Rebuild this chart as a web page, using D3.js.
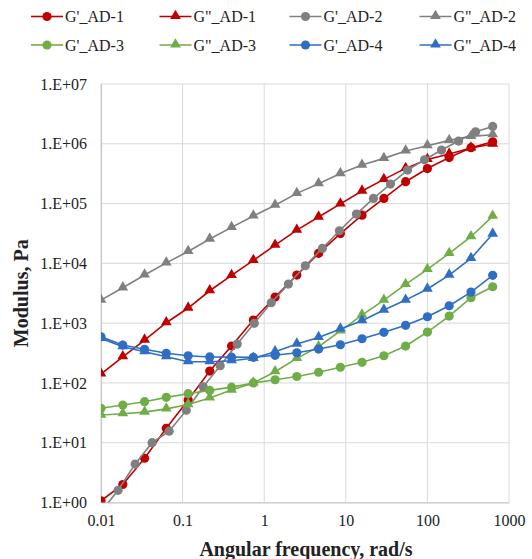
<!DOCTYPE html>
<html>
<head>
<meta charset="utf-8">
<script src="https://cdn.jsdelivr.net/npm/d3@7"></script>
<style>
  body { margin: 0; background: #fff; }
  text { font-family: "Liberation Serif", "Times New Roman", serif; fill: #222; }
</style>
</head>
<body>
<div id="chart"></div>
<script>
// angular frequency, rad/s (most series)
const freq = [0.01, 0.0185, 0.0342, 0.0631, 0.117, 0.215, 0.398, 0.736, 1.36, 2.51,
  4.64, 8.58, 15.8, 29.3, 54.1, 100, 185, 342, 631];
// G'_AD-2 was measured on a finer grid
const freq2 = [0.01, 0.0162, 0.0262, 0.0423, 0.0684, 0.111, 0.179, 0.289, 0.467, 0.756,
  1.22, 1.98, 3.19, 5.16, 8.35, 13.5, 21.8, 35.3, 57.1, 92.3, 149, 241, 390, 631];

const gp1 = [1.07, 2.0, 5.5, 17.4, 52, 158, 415, 1127, 2730, 6370, 14700, 31500,
  64000, 122000, 232000, 385000, 588000, 860000, 1080000];
const gpp1 = [141, 274, 521, 1016, 1790, 3480, 6300, 11200, 20200, 36000, 59500, 99000,
  162000, 254000, 388000, 548000, 673000, 850000, 990000];
const gp2 = [0.7, 1.6, 4.4, 10, 15.6, 35, 86, 194, 447, 993, 2195, 4500, 9120, 17800,
  35100, 66700, 122000, 212000, 363000, 540000, 785000, 1110000, 1590000, 1950000];
const gpp2 = [2430, 3900, 6400, 10200, 15800, 25500, 40000, 62000, 94000, 148000, 215000,
  318000, 440000, 570000, 760000, 930000, 1140000, 1330000, 1420000];
const gp3 = [37.6, 42.7, 48.5, 57.4, 66, 75, 85, 100, 113, 128, 151, 183, 221, 285,
  414, 710, 1315, 2660, 4060];
const gpp3 = [29, 30.5, 32.5, 36.8, 43.5, 56, 76, 100, 154, 258, 403, 740, 1366, 2430,
  4450, 7940, 14700, 27900, 61700];
const gp4 = [590, 430, 365, 313, 285, 272, 270, 268, 290, 320, 369, 435, 548, 702,
  919, 1280, 1955, 3310, 6300];
const gpp4 = [557, 403, 332, 274, 226, 226, 235, 258, 332, 447, 575, 800, 1097, 1656,
  2430, 3720, 6370, 12100, 30900];

const seriesNames = ["G'_AD-1", 'G"_AD-1', "G'_AD-2", 'G"_AD-2',
  "G'_AD-3", 'G"_AD-3', "G'_AD-4", 'G"_AD-4'];
const xTicks = [0.01, 0.1, 1, 10, 100, 1000];
const yTicks = [1, 10, 100, 1e3, 1e4, 1e5, 1e6, 1e7];

const series = [
  { name: seriesNames[0], x: freq, y: gp1, color: '#c00000', shape: 'circle' },
  { name: seriesNames[1], x: freq, y: gpp1, color: '#c00000', shape: 'triangle' },
  { name: seriesNames[2], x: freq2, y: gp2, color: '#808080', shape: 'circle' },
  { name: seriesNames[3], x: freq, y: gpp2, color: '#808080', shape: 'triangle' },
  { name: seriesNames[4], x: freq, y: gp3, color: '#70ad47', shape: 'circle' },
  { name: seriesNames[5], x: freq, y: gpp3, color: '#70ad47', shape: 'triangle' },
  { name: seriesNames[6], x: freq, y: gp4, color: '#2f6ec4', shape: 'circle' },
  { name: seriesNames[7], x: freq, y: gpp4, color: '#2f6ec4', shape: 'triangle' }
];

const width = 532, height = 559;
const plot = { left: 101, right: 509, top: 84, bottom: 502.5 };

const svg = d3.select('#chart').append('svg')
  .attr('width', width)
  .attr('height', height);

const x = d3.scaleLog().domain([0.01, 1000]).range([plot.left, plot.right]);
const y = d3.scaleLog().domain([1, 1e7]).range([plot.bottom, plot.top]);

svg.append('clipPath').attr('id', 'clip')
  .append('rect')
  .attr('x', plot.left).attr('y', plot.top)
  .attr('width', plot.right - plot.left)
  .attr('height', plot.bottom - plot.top);

// gridlines
svg.append('g')
  .selectAll('line.vgrid')
  .data(xTicks)
  .join('line')
  .attr('x1', d => x(d)).attr('x2', d => x(d))
  .attr('y1', plot.top).attr('y2', plot.bottom)
  .attr('stroke', '#d9d9d9').attr('stroke-width', 1);

svg.append('g')
  .selectAll('line.hgrid')
  .data(yTicks)
  .join('line')
  .attr('x1', plot.left).attr('x2', plot.right)
  .attr('y1', d => y(d)).attr('y2', d => y(d))
  .attr('stroke', '#d9d9d9').attr('stroke-width', 1);

// axes
const xAxis = d3.axisBottom(x)
  .tickValues(xTicks)
  .tickFormat(d => String(d))
  .tickSize(0)
  .tickPadding(12);

const yAxis = d3.axisLeft(y)
  .tickValues(yTicks)
  .tickFormat(d => '1.E+' + String(Math.round(Math.log10(d))).padStart(2, '0'))
  .tickSize(0)
  .tickPadding(14);

const gx = svg.append('g')
  .attr('transform', `translate(0,${plot.bottom})`)
  .call(xAxis);
const gy = svg.append('g')
  .attr('transform', `translate(${plot.left},0)`)
  .call(yAxis);

[gx, gy].forEach(g => {
  g.select('.domain').attr('stroke', '#c8c8c8').attr('stroke-width', 1.2);
  g.selectAll('text')
    .style('font-family', '"Liberation Serif", serif')
    .style('font-size', '16px')
    .attr('fill', '#222');
});

// axis titles
svg.append('text')
  .attr('x', (plot.left + plot.right) / 2 + 1)
  .attr('y', 556)
  .attr('text-anchor', 'middle')
  .style('font-size', '20px')
  .style('font-weight', 'bold')
  .text('Angular frequency, rad/s');

svg.append('text')
  .attr('transform', `translate(28,${(plot.top + plot.bottom) / 2}) rotate(-90)`)
  .attr('text-anchor', 'middle')
  .style('font-size', '20px')
  .style('font-weight', 'bold')
  .text('Modulus, Pa');

// series
const line = d3.line()
  .x(d => x(d[0]))
  .y(d => y(d[1]));

const triangle = d3.symbol().type(d3.symbolTriangle).size(50);

function drawMarker(g, shape, color, px, py) {
  if (shape === 'circle') {
    g.append('circle')
      .attr('cx', px).attr('cy', py).attr('r', 4.6)
      .attr('fill', color);
  } else {
    g.append('path')
      .attr('d', triangle())
      .attr('transform', `translate(${px},${py - 0.5})`)
      .attr('fill', color);
  }
}

const plotG = svg.append('g').attr('clip-path', 'url(#clip)');

series.forEach(s => {
  const pts = s.x.map((xv, i) => [xv, s.y[i]]);
  const g = plotG.append('g');
  g.append('path')
    .datum(pts)
    .attr('d', line)
    .attr('fill', 'none')
    .attr('stroke', s.color)
    .attr('stroke-width', 1.6);
  pts.forEach(p => drawMarker(g, s.shape, s.color, x(p[0]), y(p[1])));
});

// legend
const legX = [31, 159.5, 289.5, 419.5];
const legY = [16.5, 45];
series.forEach((s, i) => {
  const lx = legX[i % 4], ly = legY[Math.floor(i / 4)];
  const g = svg.append('g');
  g.append('line')
    .attr('x1', lx).attr('x2', lx + 32)
    .attr('y1', ly).attr('y2', ly)
    .attr('stroke', s.color).attr('stroke-width', 1.6);
  drawMarker(g, s.shape, s.color, lx + 16, ly);
  g.append('text')
    .attr('x', lx + 34)
    .attr('y', ly)
    .attr('dy', '0.35em')
    .style('font-size', '16px')
    .text(s.name);
});
</script>
</body>
</html>
